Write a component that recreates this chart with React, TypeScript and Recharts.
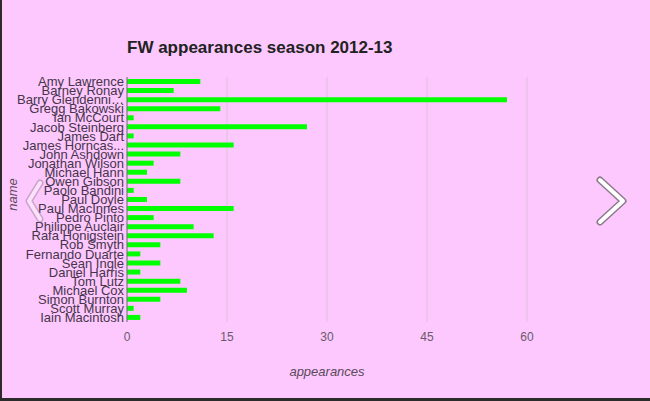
import * as React from 'react';
import { BarChart, Bar, XAxis, YAxis, CartesianGrid, Label } from 'recharts';

const players = [
    'Amy Lawrence', 'Barney Ronay', 'Barry Glendenning', 'Gregg Bakowski', 'Ian McCourt',
    'Jacob Steinberg', 'James Dart', 'James Horncastle', 'John Ashdown', 'Jonathan Wilson',
    'Michael Hann', 'Owen Gibson', 'Paolo Bandini', 'Paul Doyle', 'Paul MacInnes',
    'Pedro Pinto', 'Philippe Auclair', 'Rafa Honigstein', 'Rob Smyth', 'Fernando Duarte',
    'Sean Ingle', 'Daniel Harris', 'Tom Lutz', 'Michael Cox', 'Simon Burnton',
    'Scott Murray', 'Iain Macintosh',
];

// labels as they show on the axis (long ones are cut)
const playerLabels = [
    'Amy Lawrence', 'Barney Ronay', 'Barry Glendenni\u2026', 'Gregg Bakowski', 'Ian McCourt',
    'Jacob Steinberg', 'James Dart', 'James Horncas...', 'John Ashdown', 'Jonathan Wilson',
    'Michael Hann', 'Owen Gibson', 'Paolo Bandini', 'Paul Doyle', 'Paul MacInnes',
    'Pedro Pinto', 'Philippe Auclair', 'Rafa Honigstein', 'Rob Smyth', 'Fernando Duarte',
    'Sean Ingle', 'Daniel Harris', 'Tom Lutz', 'Michael Cox', 'Simon Burnton',
    'Scott Murray', 'Iain Macintosh',
];

const appearances = [11, 7, 57, 14, 1, 27, 1, 16, 8, 4, 3, 8, 1, 3, 16, 4, 10, 13, 5, 2, 5, 2, 8, 9, 5, 1, 2];

const xTicks = [0, 15, 30, 45, 60];

const data = players.map((name, i) => ({ name, appearances: appearances[i] }));

const FONT = '"Liberation Sans", Arial, sans-serif';

export default function App() {
    return (
        <div
            style={{
                position: 'fixed',
                left: 0,
                top: 0,
                width: 650,
                height: 401,
                boxSizing: 'border-box',
                borderLeft: '2px solid #2b2b2b',
                borderBottom: '3px solid #2b2b2b',
                background: '#fdc8fd',
                fontFamily: FONT,
            }}
        >
            <div
                style={{
                    position: 'absolute',
                    left: 125,
                    top: 38,
                    fontSize: 17,
                    lineHeight: '20px',
                    fontWeight: 'bold',
                    color: '#222',
                    whiteSpace: 'nowrap',
                }}
            >
                FW appearances season 2012-13
            </div>
            <BarChart
                width={648}
                height={398}
                data={data}
                layout="vertical"
                margin={{ top: 77, right: 123, bottom: 16, left: 0 }}
            >
                <CartesianGrid horizontal={false} stroke="#dbc0db" />
                <XAxis
                    type="number"
                    dataKey="appearances"
                    domain={[0, 60]}
                    ticks={xTicks}
                    height={60}
                    axisLine={false}
                    tickLine={false}
                    tickSize={0}
                    tickMargin={10}
                    tick={{ fill: '#6a5a6a', fontSize: 12, fontFamily: FONT }}
                >
                    <Label
                        value="appearances"
                        position="insideBottom"
                        offset={6}
                        style={{ fill: '#5a4a5a', fontSize: 13, fontStyle: 'italic', fontFamily: FONT }}
                    />
                </XAxis>
                <YAxis
                    type="category"
                    dataKey="name"
                    width={125}
                    interval={0}
                    axisLine={{ stroke: '#7a6a7a' }}
                    tickLine={false}
                    tickSize={0}
                    tickMargin={3}
                    tickFormatter={(v: string, i: number) => playerLabels[i] ?? v}
                    tick={{ fill: '#45354a', fontSize: 13, fontFamily: FONT }}
                >
                    <Label
                        value="name"
                        angle={-90}
                        position="insideLeft"
                        offset={10}
                        dy={-5}
                        style={{ textAnchor: 'middle', fill: '#5a4a5a', fontSize: 13, fontStyle: 'italic', fontFamily: FONT }}
                    />
                </YAxis>
                <Bar dataKey="appearances" fill="#00ff00" barSize={5} isAnimationActive={false} />
            </BarChart>
            <svg
                width={650}
                height={401}
                style={{ position: 'absolute', left: -2, top: 0, pointerEvents: 'none' }}
            >
                <g fill="none" strokeLinecap="round" strokeLinejoin="round">
                    <polyline points="600,180 623,201 600,222" stroke="#8a7a8a" strokeWidth={7} />
                    <polyline points="600,180 623,201 600,222" stroke="#ffffff" strokeWidth={4} />
                    <g opacity={0.45}>
                        <polyline points="40,183 29,201 40,219" stroke="#8a7a8a" strokeWidth={7} />
                        <polyline points="40,183 29,201 40,219" stroke="#ffffff" strokeWidth={4} />
                    </g>
                </g>
            </svg>
        </div>
    );
}
